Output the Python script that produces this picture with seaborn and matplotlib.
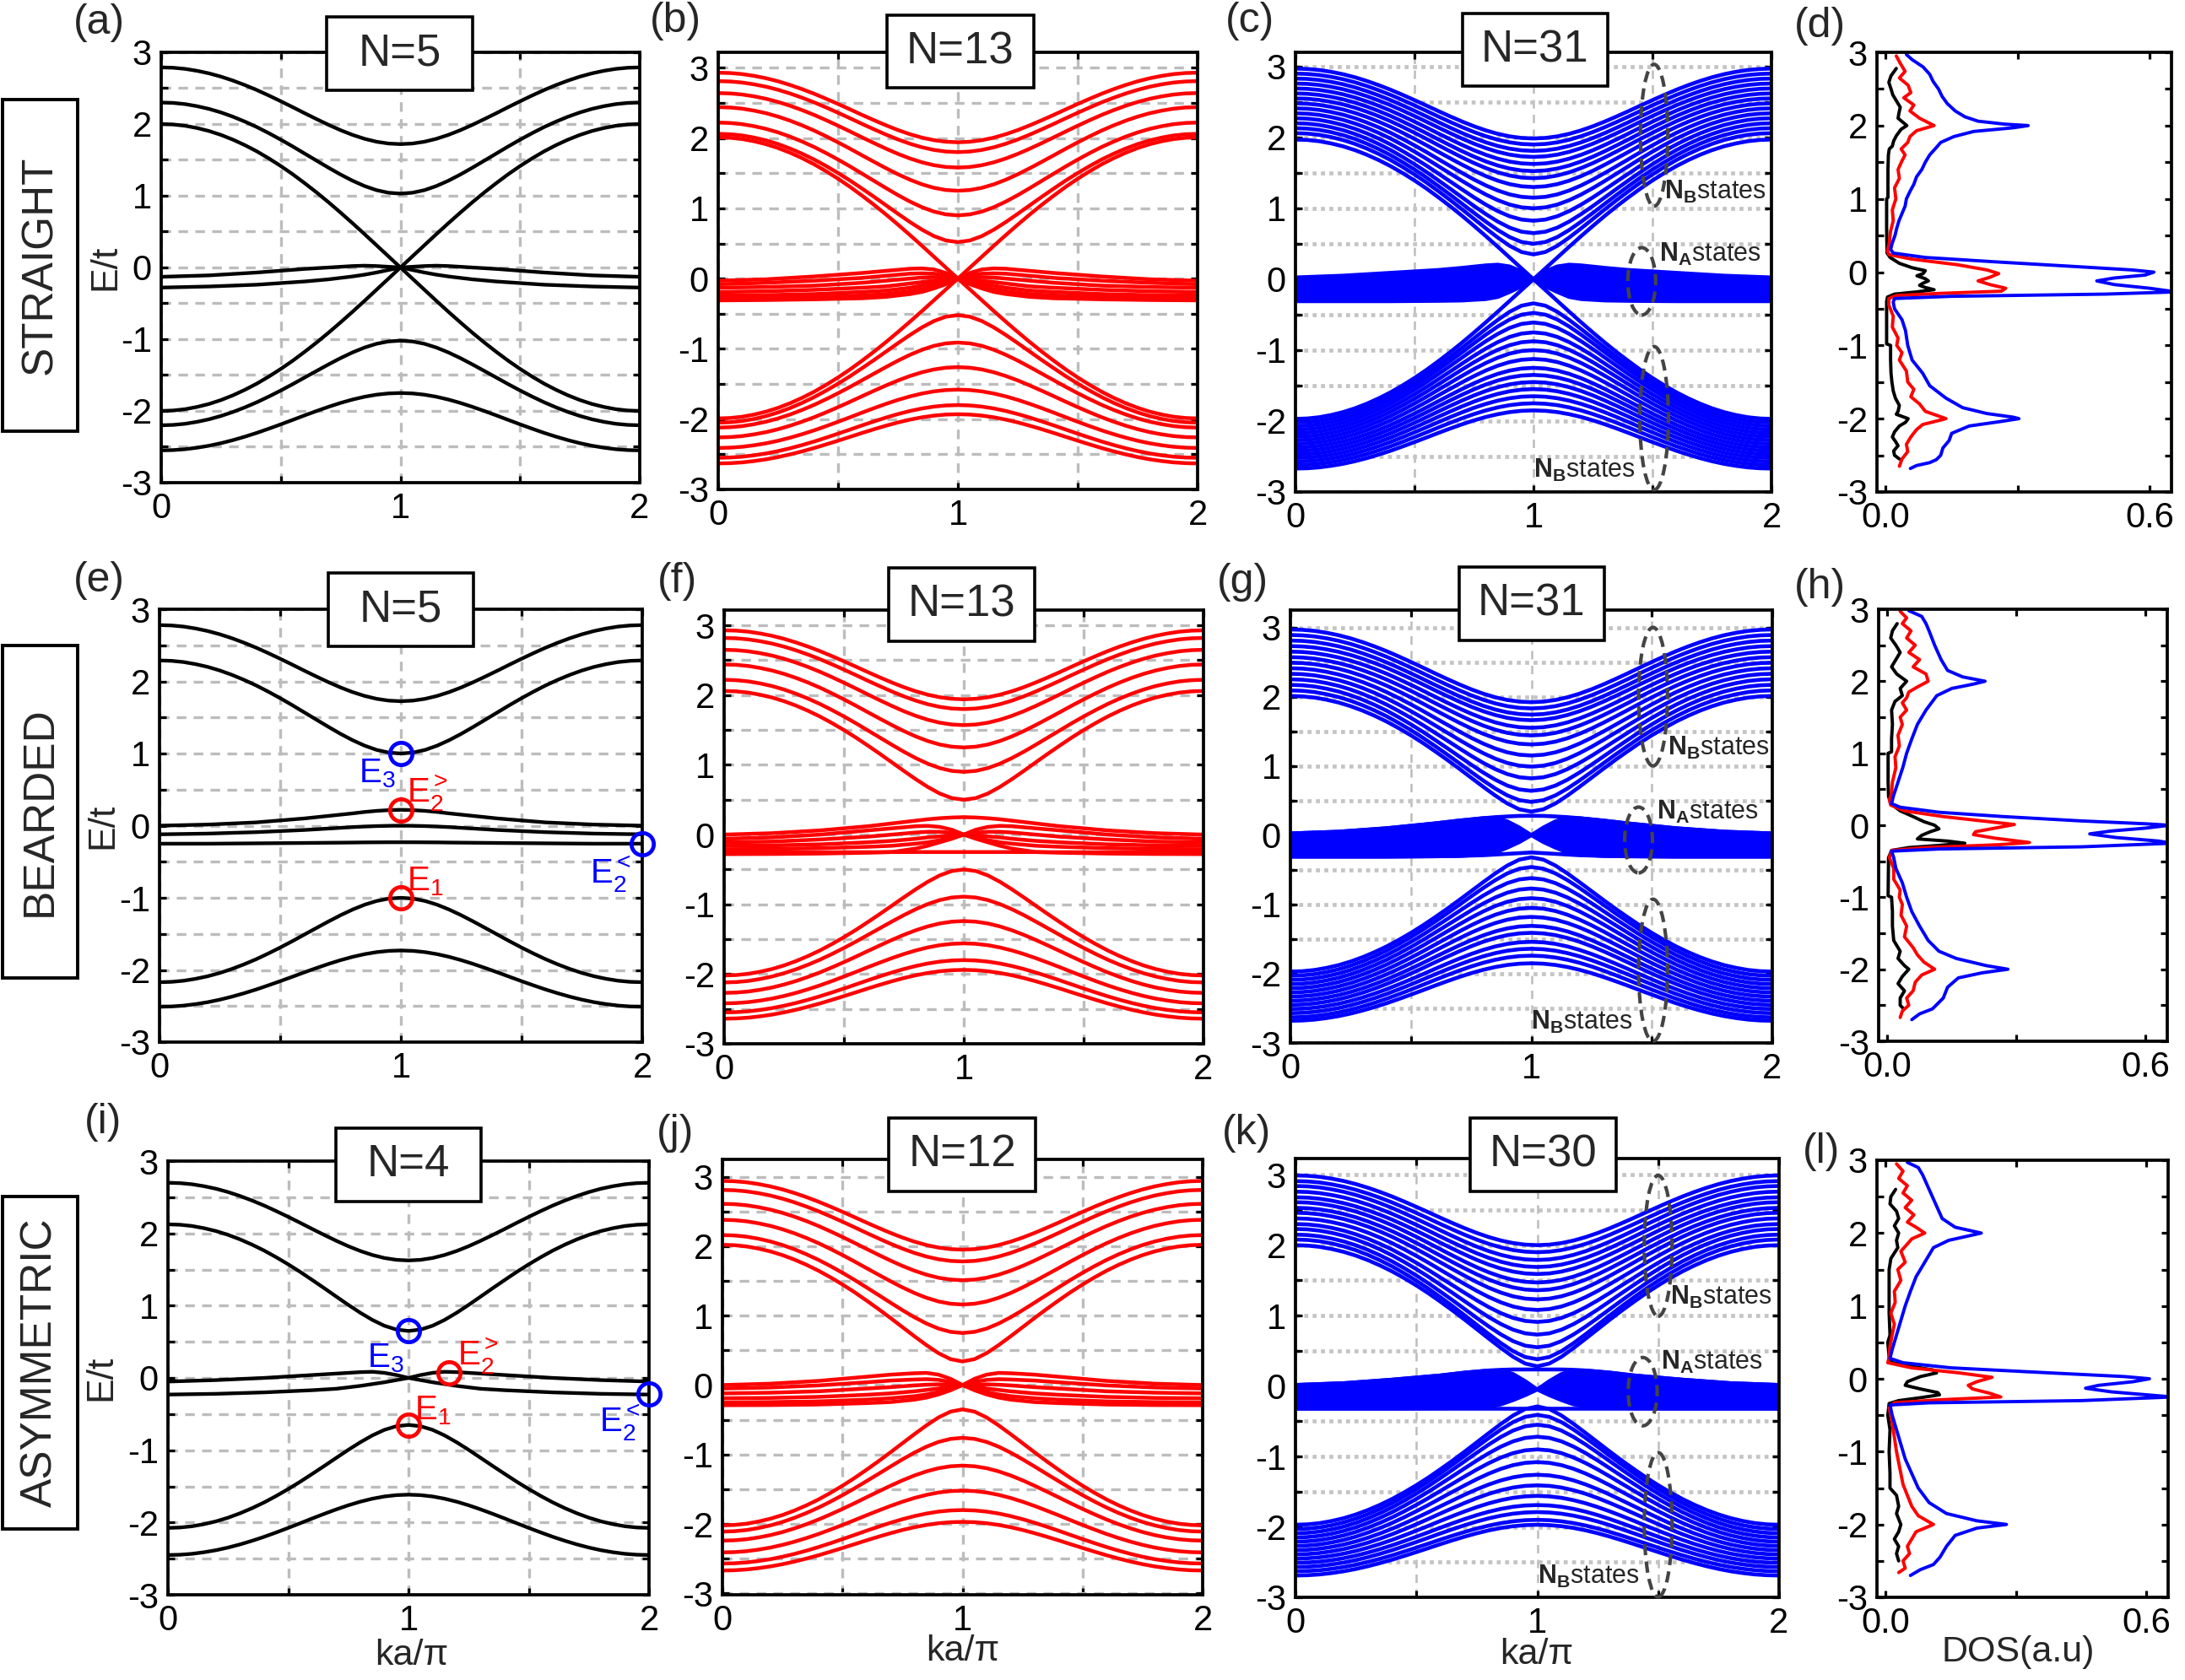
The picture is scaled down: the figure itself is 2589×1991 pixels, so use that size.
import numpy as np
import pandas as pd
import seaborn as sns
from matplotlib import pyplot as plt
from matplotlib.patches import Ellipse, Rectangle

# ---------------- values ----------------
# half Brillouin zone, the right half (1..2) is the mirror image
K_HALF = [0.0, 0.05, 0.1, 0.15, 0.2, 0.25, 0.3, 0.35, 0.4, 0.45, 0.5,
          0.55, 0.6, 0.65, 0.7, 0.75, 0.8, 0.85, 0.9, 0.95, 1.0]
# E^2 goes from its zone-edge value to its zone-centre value along this shape
SHAPE = [0.0, 0.006, 0.024, 0.055, 0.095, 0.146, 0.206, 0.273, 0.345, 0.422, 0.5,
         0.578, 0.655, 0.727, 0.794, 0.854, 0.905, 0.946, 0.976, 0.994, 1.0]
K_FLAT = [0.0, 0.2, 0.4, 0.6, 0.7, 0.8, 0.85, 0.9, 0.95, 1.0]

# (a) straight N=5
A_UP_EDGE = [2.79, 2.30, 2.00]
A_UP_CENTER = [1.72, 1.03, 0.00]
A_LO_EDGE = [-2.00, -2.20, -2.55]
A_LO_CENTER = [0.00, -1.02, -1.75]
A_FLAT = [
    [-0.13, -0.11, -0.07, -0.02, 0.00, 0.02, 0.025, 0.02, 0.01, 0.0],
    [-0.28, -0.265, -0.24, -0.195, -0.165, -0.125, -0.10, -0.07, -0.035, 0.0],
]

# (b) straight N=13
B_UP_EDGE = [2.93, 2.81, 2.64, 2.44, 2.22, 2.06, 2.01]
B_UP_CENTER = [1.94, 1.80, 1.58, 1.25, 0.90, 0.52, 0.00]
B_LO_EDGE = [-1.99, -2.05, -2.12, -2.26, -2.41, -2.55, -2.63]
B_LO_CENTER = [0.00, -0.52, -0.91, -1.26, -1.58, -1.80, -1.93]
B_FLAT = [
    [-0.03, -0.01, 0.03, 0.08, 0.11, 0.14, 0.145, 0.13, 0.08, 0.0],
    [-0.08, -0.06, -0.03, 0.01, 0.04, 0.07, 0.075, 0.07, 0.04, 0.0],
    [-0.13, -0.12, -0.10, -0.06, -0.03, 0.00, 0.015, 0.02, 0.015, 0.0],
    [-0.19, -0.18, -0.16, -0.13, -0.11, -0.07, -0.05, -0.03, -0.01, 0.0],
    [-0.24, -0.235, -0.22, -0.19, -0.17, -0.13, -0.10, -0.07, -0.035, 0.0],
    [-0.28, -0.275, -0.265, -0.24, -0.22, -0.18, -0.15, -0.11, -0.06, 0.0],
    [-0.31, -0.305, -0.295, -0.28, -0.26, -0.22, -0.19, -0.14, -0.08, 0.0],
]

# (c) straight N=31
C_UP_EDGE = [2.97, 2.90, 2.83, 2.76, 2.69, 2.62, 2.55, 2.48, 2.41, 2.34, 2.27, 2.20, 2.13, 2.06, 1.97]
C_UP_CENTER = [1.985, 1.90, 1.81, 1.725, 1.625, 1.525, 1.425, 1.30, 1.15, 1.00, 0.825, 0.65, 0.50, 0.35, 0.00]
C_LO_EDGE = [-1.97, -2.02, -2.07, -2.12, -2.17, -2.22, -2.27, -2.32, -2.37, -2.42, -2.47, -2.52, -2.57, -2.62, -2.67]
C_LO_CENTER = [0.00, -0.34, -0.475, -0.61, -0.75, -0.875, -1.00, -1.125, -1.25, -1.35, -1.45, -1.55, -1.65, -1.75, -1.85]
C_FLAT_TOP = [0.025, 0.05, 0.09, 0.13, 0.16, 0.195, 0.205, 0.18, 0.11, 0.0]
C_FLAT_BOT = [-0.31, -0.31, -0.31, -0.305, -0.30, -0.28, -0.25, -0.18, -0.10, 0.0]

# (e) bearded N=5
E_UP_EDGE = [2.78, 2.29]
E_UP_CENTER = [1.725, 1.00]
E_LO_EDGE = [-2.17, -2.51]
E_LO_CENTER = [-1.00, -1.73]
E_FLAT = [
    [0.00, 0.015, 0.045, 0.10, 0.135, 0.17, 0.19, 0.205, 0.215, 0.22],
    [-0.12, -0.11, -0.09, -0.06, -0.04, -0.02, -0.012, -0.006, -0.002, 0.0],
    [-0.25, -0.25, -0.245, -0.24, -0.237, -0.234, -0.232, -0.231, -0.23, -0.23],
]

# (f) bearded N=13
F_UP_EDGE = [2.93, 2.82, 2.65, 2.44, 2.22, 2.06]
F_UP_CENTER = [1.94, 1.80, 1.57, 1.25, 0.90, 0.50]
F_LO_EDGE = [-2.02, -2.12, -2.27, -2.42, -2.55, -2.64]
F_LO_CENTER = [-0.50, -0.89, -1.24, -1.56, -1.80, -1.94]
F_FLAT = [
    [0.00, 0.02, 0.06, 0.12, 0.16, 0.20, 0.22, 0.235, 0.245, 0.25],
    [-0.06, -0.04, 0.00, 0.06, 0.09, 0.12, 0.125, 0.11, 0.07, 0.0],
    [-0.11, -0.10, -0.07, -0.03, 0.00, 0.03, 0.04, 0.04, 0.025, 0.0],
    [-0.16, -0.155, -0.14, -0.11, -0.09, -0.06, -0.04, -0.025, -0.01, 0.0],
    [-0.21, -0.205, -0.195, -0.175, -0.16, -0.13, -0.11, -0.08, -0.04, 0.0],
    [-0.255, -0.254, -0.253, -0.252, -0.251, -0.25, -0.25, -0.25, -0.25, -0.25],
    [-0.28, -0.278, -0.272, -0.26, -0.25, -0.20, -0.16, -0.11, -0.06, 0.0],
]

# (g) bearded N=31
G_UP_EDGE = [2.97, 2.89, 2.81, 2.73, 2.65, 2.57, 2.49, 2.41, 2.33, 2.25, 2.17, 2.09, 2.01]
G_UP_CENTER = [1.92, 1.83, 1.74, 1.66, 1.55, 1.44, 1.31, 1.15, 0.99, 0.82, 0.64, 0.48, 0.34]
G_LO_EDGE = [-1.97, -2.03, -2.09, -2.15, -2.21, -2.27, -2.33, -2.39, -2.45, -2.51, -2.57, -2.63, -2.68]
G_LO_CENTER = [-0.32, -0.46, -0.62, -0.77, -0.91, -1.05, -1.18, -1.31, -1.41, -1.54, -1.64, -1.74, -1.85]
G_FLAT_TOP = [0.025, 0.05, 0.10, 0.17, 0.21, 0.245, 0.25, 0.20, 0.11, 0.0]
G_FLAT_BOT = [-0.31, -0.31, -0.31, -0.305, -0.30, -0.28, -0.25, -0.18, -0.10, 0.0]
G_DOME = [0.025, 0.05, 0.10, 0.17, 0.21, 0.245, 0.26, 0.27, 0.278, 0.28]
G_FLOOR = [-0.31, -0.31, -0.31, -0.305, -0.30, -0.29, -0.28, -0.27, -0.26, -0.25]

# (i) asymmetric N=4
I_UP_EDGE = [2.70, 2.125]
I_UP_CENTER = [1.625, 0.65]
I_LO_EDGE = [-2.075, -2.45]
I_LO_CENTER = [-0.65, -1.615]
I_FLAT = [
    [-0.05, -0.03, 0.00, 0.04, 0.06, 0.08, 0.085, 0.07, 0.04, 0.0],
    [-0.23, -0.22, -0.20, -0.17, -0.15, -0.11, -0.085, -0.06, -0.03, 0.0],
]

# (j) asymmetric N=12
J_UP_EDGE = [2.94, 2.81, 2.61, 2.38, 2.16, 2.02]
J_UP_CENTER = [1.95, 1.78, 1.51, 1.16, 0.75, 0.34]
J_LO_EDGE = [-2.02, -2.11, -2.24, -2.41, -2.57, -2.67]
J_LO_CENTER = [-0.35, -0.76, -1.16, -1.52, -1.80, -1.97]
J_FLAT = [
    [0.00, 0.02, 0.06, 0.12, 0.15, 0.17, 0.175, 0.15, 0.09, 0.0],
    [-0.05, -0.035, -0.005, 0.04, 0.065, 0.08, 0.085, 0.075, 0.045, 0.0],
    [-0.12, -0.11, -0.09, -0.05, -0.03, -0.005, 0.005, 0.01, 0.007, 0.0],
    [-0.19, -0.185, -0.17, -0.14, -0.12, -0.09, -0.07, -0.05, -0.025, 0.0],
    [-0.25, -0.245, -0.235, -0.21, -0.19, -0.16, -0.135, -0.10, -0.055, 0.0],
    [-0.29, -0.288, -0.28, -0.26, -0.245, -0.21, -0.18, -0.135, -0.075, 0.0],
]

# (k) asymmetric N=30
K_UP_EDGE = [2.99, 2.91, 2.84, 2.76, 2.68, 2.61, 2.53, 2.46, 2.38, 2.30, 2.23, 2.15, 2.08, 2.00]
K_UP_CENTER = [2.00, 1.90, 1.79, 1.69, 1.59, 1.47, 1.36, 1.23, 1.08, 0.91, 0.73, 0.55, 0.38, 0.28]
K_LO_EDGE = [-1.97, -2.03, -2.09, -2.15, -2.21, -2.27, -2.33, -2.39, -2.45, -2.51, -2.57, -2.63, -2.69]
K_LO_CENTER = [-0.29, -0.41, -0.55, -0.72, -0.90, -1.08, -1.26, -1.41, -1.56, -1.69, -1.79, -1.90, -1.97]
K_FLAT_TOP = [0.015, 0.04, 0.09, 0.15, 0.19, 0.22, 0.22, 0.17, 0.07, -0.05]
K_FLAT_BOT = [-0.32, -0.32, -0.32, -0.315, -0.31, -0.29, -0.26, -0.20, -0.13, -0.05]
K_DOME = [0.015, 0.04, 0.09, 0.15, 0.19, 0.22, 0.23, 0.235, 0.235, 0.235]
K_FLOOR = [-0.32, -0.32, -0.32, -0.32, -0.32, -0.32, -0.32, -0.32, -0.32, -0.32]

# DOS curves, (E, DOS) pairs
D_BLACK = [(2.78, 0.024), (2.68, 0.012), (2.59, 0.007), (2.50, 0.012), (2.42, 0.016), (2.33, 0.025),
           (2.25, 0.033), (2.17, 0.030), (2.10, 0.028), (2.04, 0.040), (2.00, 0.048), (1.95, 0.035),
           (1.86, 0.024), (1.79, 0.018), (1.72, 0.015), (1.68, 0.008), (1.60, 0.006), (1.40, 0.005),
           (1.20, 0.005), (1.02, 0.005), (1.00, 0.002), (0.60, 0.002), (0.26, 0.003), (0.20, 0.010),
           (0.12, 0.031), (0.06, 0.060), (0.02, 0.090), (-0.02, 0.085), (-0.05, 0.071), (-0.09, 0.090),
           (-0.12, 0.097), (-0.15, 0.085), (-0.18, 0.077), (-0.21, 0.090), (-0.24, 0.110), (-0.27, 0.070),
           (-0.30, 0.020), (-0.34, 0.004), (-0.40, 0.002), (-0.98, 0.002), (-1.00, 0.011), (-1.20, 0.011),
           (-1.38, 0.012), (-1.50, 0.014), (-1.62, 0.017), (-1.72, 0.022), (-1.82, 0.031), (-1.90, 0.028),
           (-1.94, 0.024), (-2.00, 0.051), (-2.05, 0.045), (-2.10, 0.031), (-2.18, 0.020), (-2.25, 0.015),
           (-2.31, 0.022), (-2.37, 0.028), (-2.44, 0.018), (-2.50, 0.020), (-2.55, 0.031)]
D_RED = [(2.95, 0.024), (2.85, 0.033), (2.74, 0.044), (2.65, 0.031), (2.55, 0.051), (2.45, 0.057),
         (2.38, 0.041), (2.28, 0.064), (2.20, 0.055), (2.10, 0.077), (2.00, 0.110), (1.93, 0.070),
         (1.85, 0.055), (1.77, 0.050), (1.68, 0.035), (1.60, 0.044), (1.52, 0.037), (1.40, 0.028),
         (1.28, 0.031), (1.15, 0.020), (1.00, 0.023), (0.85, 0.015), (0.70, 0.017), (0.56, 0.011),
         (0.40, 0.008), (0.29, 0.004), (0.24, 0.007), (0.18, 0.057), (0.10, 0.164), (0.03, 0.230),
         (-0.02, 0.257), (-0.07, 0.237), (-0.12, 0.210), (-0.17, 0.237), (-0.22, 0.273), (-0.26, 0.263),
         (-0.29, 0.124), (-0.32, 0.024), (-0.36, 0.007), (-0.45, 0.007), (-0.60, 0.017), (-0.75, 0.015),
         (-0.90, 0.028), (-1.00, 0.025), (-1.10, 0.037), (-1.20, 0.031), (-1.35, 0.047), (-1.50, 0.050),
         (-1.60, 0.064), (-1.70, 0.057), (-1.80, 0.077), (-1.90, 0.090), (-2.00, 0.137), (-2.08, 0.084),
         (-2.15, 0.070), (-2.25, 0.057), (-2.35, 0.047), (-2.45, 0.050), (-2.55, 0.037), (-2.65, 0.031)]
D_BLUE = [(2.97, 0.047), (2.90, 0.060), (2.80, 0.085), (2.70, 0.100), (2.60, 0.108), (2.50, 0.120),
          (2.40, 0.128), (2.30, 0.140), (2.20, 0.158), (2.12, 0.180), (2.06, 0.210), (2.02, 0.270),
          (2.00, 0.324), (1.97, 0.290), (1.92, 0.200), (1.85, 0.155), (1.77, 0.125), (1.70, 0.115),
          (1.60, 0.100), (1.50, 0.090), (1.40, 0.082), (1.30, 0.070), (1.20, 0.064), (1.10, 0.055),
          (1.00, 0.047), (0.90, 0.044), (0.80, 0.037), (0.70, 0.030), (0.60, 0.025), (0.50, 0.021),
          (0.40, 0.015), (0.31, 0.011), (0.26, 0.017), (0.20, 0.090), (0.14, 0.250), (0.08, 0.420),
          (0.03, 0.560), (0.00, 0.610), (-0.04, 0.590), (-0.08, 0.520), (-0.12, 0.480), (-0.17, 0.520),
          (-0.22, 0.600), (-0.27, 0.660), (-0.30, 0.500), (-0.33, 0.150), (-0.36, 0.020), (-0.41, 0.017),
          (-0.50, 0.020), (-0.65, 0.037), (-0.80, 0.045), (-1.00, 0.050), (-1.20, 0.060), (-1.38, 0.084),
          (-1.55, 0.100), (-1.72, 0.137), (-1.85, 0.175), (-1.93, 0.230), (-1.98, 0.290), (-2.00, 0.303),
          (-2.04, 0.260), (-2.10, 0.190), (-2.20, 0.150), (-2.30, 0.144), (-2.40, 0.130), (-2.50, 0.125),
          (-2.56, 0.115), (-2.60, 0.100), (-2.64, 0.070), (-2.68, 0.056)]

H_BLACK = [(2.80, 0.023), (2.70, 0.012), (2.60, 0.008), (2.50, 0.020), (2.40, 0.030), (2.30, 0.020),
           (2.20, 0.010), (2.10, 0.022), (2.00, 0.045), (1.90, 0.030), (1.80, 0.035), (1.72, 0.018),
           (1.60, 0.010), (1.40, 0.012), (1.20, 0.010), (1.02, 0.010), (1.00, 0.002), (0.60, 0.002),
           (0.40, 0.003), (0.30, 0.008), (0.20, 0.030), (0.12, 0.060), (0.05, 0.085), (0.00, 0.110),
           (-0.05, 0.120), (-0.09, 0.100), (-0.14, 0.080), (-0.19, 0.070), (-0.22, 0.140), (-0.25, 0.180),
           (-0.28, 0.120), (-0.31, 0.050), (-0.35, 0.010), (-0.45, 0.003), (-0.98, 0.002), (-1.00, 0.010),
           (-1.20, 0.012), (-1.40, 0.012), (-1.60, 0.015), (-1.75, 0.030), (-1.85, 0.025), (-1.95, 0.040),
           (-2.00, 0.050), (-2.10, 0.035), (-2.20, 0.025), (-2.30, 0.040), (-2.40, 0.030), (-2.50, 0.030),
           (-2.55, 0.038)]
H_RED = [(2.97, 0.030), (2.88, 0.045), (2.80, 0.035), (2.70, 0.055), (2.60, 0.045), (2.50, 0.065),
         (2.40, 0.050), (2.30, 0.075), (2.20, 0.060), (2.10, 0.090), (2.00, 0.095), (1.92, 0.070),
         (1.85, 0.050), (1.77, 0.045), (1.70, 0.035), (1.60, 0.045), (1.50, 0.030), (1.40, 0.035),
         (1.25, 0.025), (1.10, 0.028), (0.95, 0.018), (0.80, 0.020), (0.60, 0.012), (0.45, 0.010),
         (0.35, 0.005), (0.28, 0.008), (0.20, 0.040), (0.12, 0.130), (0.06, 0.220), (0.01, 0.295),
         (-0.04, 0.250), (-0.09, 0.205), (-0.13, 0.200), (-0.18, 0.250), (-0.24, 0.330), (-0.27, 0.260),
         (-0.31, 0.090), (-0.35, 0.010), (-0.45, 0.005), (-0.60, 0.015), (-0.75, 0.015), (-0.90, 0.030),
         (-1.00, 0.028), (-1.10, 0.035), (-1.25, 0.032), (-1.40, 0.045), (-1.55, 0.040), (-1.70, 0.060),
         (-1.80, 0.070), (-1.90, 0.085), (-2.00, 0.110), (-2.08, 0.080), (-2.18, 0.065), (-2.30, 0.060),
         (-2.40, 0.045), (-2.50, 0.050), (-2.58, 0.035), (-2.67, 0.030)]
H_BLUE = [(2.98, 0.050), (2.90, 0.080), (2.80, 0.090), (2.70, 0.097), (2.50, 0.110), (2.30, 0.125),
          (2.15, 0.140), (2.06, 0.175), (2.00, 0.227), (1.96, 0.200), (1.90, 0.150), (1.80, 0.115),
          (1.60, 0.090), (1.40, 0.070), (1.20, 0.057), (1.00, 0.045), (0.80, 0.036), (0.60, 0.025),
          (0.40, 0.014), (0.30, 0.010), (0.25, 0.030), (0.18, 0.120), (0.12, 0.270), (0.06, 0.450),
          (0.02, 0.600), (0.00, 0.655), (-0.04, 0.600), (-0.08, 0.520), (-0.12, 0.470), (-0.17, 0.530),
          (-0.22, 0.630), (-0.25, 0.660), (-0.30, 0.450), (-0.33, 0.120), (-0.36, 0.010), (-0.45, 0.015),
          (-0.60, 0.020), (-0.80, 0.035), (-1.00, 0.045), (-1.20, 0.057), (-1.40, 0.075), (-1.60, 0.095),
          (-1.75, 0.120), (-1.85, 0.160), (-1.95, 0.230), (-2.00, 0.280), (-2.05, 0.220), (-2.12, 0.165),
          (-2.25, 0.140), (-2.40, 0.130), (-2.55, 0.105), (-2.62, 0.075), (-2.70, 0.057)]

L_BLACK = [(2.60, 0.023), (2.50, 0.012), (2.40, 0.010), (2.30, 0.025), (2.20, 0.030), (2.10, 0.020),
           (2.00, 0.030), (1.90, 0.025), (1.80, 0.028), (1.65, 0.012), (1.50, 0.008), (1.20, 0.008),
           (0.90, 0.008), (0.60, 0.010), (0.50, 0.005), (0.30, 0.008), (0.22, 0.015), (0.17, 0.060),
           (0.12, 0.110), (0.08, 0.117), (0.03, 0.080), (-0.04, 0.050), (-0.09, 0.045), (-0.14, 0.080),
           (-0.19, 0.120), (-0.22, 0.124), (-0.26, 0.080), (-0.30, 0.030), (-0.34, 0.008), (-0.50, 0.005),
           (-0.70, 0.010), (-1.00, 0.008), (-1.30, 0.010), (-1.50, 0.010), (-1.60, 0.025), (-1.75, 0.030),
           (-1.85, 0.025), (-2.00, 0.035), (-2.10, 0.030), (-2.20, 0.020), (-2.30, 0.030), (-2.40, 0.025),
           (-2.50, 0.030)]
L_RED = [(2.95, 0.025), (2.85, 0.040), (2.75, 0.030), (2.65, 0.050), (2.55, 0.040), (2.45, 0.060),
         (2.35, 0.045), (2.25, 0.065), (2.15, 0.050), (2.08, 0.070), (2.00, 0.090), (1.92, 0.060),
         (1.85, 0.050), (1.75, 0.035), (1.60, 0.045), (1.50, 0.028), (1.35, 0.035), (1.20, 0.020),
         (1.05, 0.022), (0.90, 0.012), (0.75, 0.020), (0.60, 0.015), (0.45, 0.010), (0.30, 0.008),
         (0.22, 0.005), (0.15, 0.060), (0.08, 0.170), (0.02, 0.245), (-0.04, 0.210), (-0.09, 0.190),
         (-0.14, 0.200), (-0.20, 0.240), (-0.25, 0.265), (-0.29, 0.120), (-0.33, 0.020), (-0.40, 0.008),
         (-0.60, 0.015), (-0.80, 0.020), (-1.00, 0.025), (-1.15, 0.030), (-1.30, 0.035), (-1.45, 0.040),
         (-1.60, 0.050), (-1.75, 0.060), (-1.88, 0.075), (-2.00, 0.110), (-2.10, 0.070), (-2.20, 0.060),
         (-2.30, 0.050), (-2.40, 0.055), (-2.50, 0.040), (-2.60, 0.045), (-2.66, 0.030)]
L_BLUE = [(2.97, 0.050), (2.90, 0.075), (2.80, 0.085), (2.60, 0.100), (2.40, 0.115), (2.20, 0.130),
          (2.08, 0.160), (2.00, 0.220), (1.96, 0.190), (1.90, 0.145), (1.80, 0.110), (1.60, 0.090),
          (1.40, 0.070), (1.20, 0.057), (1.00, 0.045), (0.80, 0.035), (0.60, 0.025), (0.40, 0.015),
          (0.28, 0.010), (0.22, 0.040), (0.15, 0.150), (0.08, 0.380), (0.03, 0.550), (0.00, 0.607),
          (-0.04, 0.570), (-0.09, 0.490), (-0.13, 0.460), (-0.18, 0.520), (-0.22, 0.600), (-0.25, 0.660),
          (-0.30, 0.450), (-0.33, 0.100), (-0.36, 0.010), (-0.50, 0.015), (-0.70, 0.025), (-0.90, 0.035),
          (-1.10, 0.045), (-1.30, 0.060), (-1.50, 0.075), (-1.70, 0.100), (-1.85, 0.140), (-1.95, 0.210),
          (-2.00, 0.278), (-2.05, 0.210), (-2.15, 0.160), (-2.30, 0.140), (-2.45, 0.125), (-2.55, 0.110),
          (-2.62, 0.080), (-2.70, 0.057)]

# ---------------- drawing ----------------
sns.set_theme(style="ticks")
plt.rcParams["font.family"] = ["Liberation Sans", "DejaVu Sans"]
plt.rcParams["mathtext.fontset"] = "custom"
plt.rcParams["mathtext.rm"] = "Liberation Sans"
plt.rcParams["mathtext.it"] = "Liberation Sans"
plt.rcParams["mathtext.bf"] = "Liberation Sans:bold"

W, H = 2589, 1991
BLUE, RED = "#0000ff", "#ff0000"
GRID = "#bcbcbc"
NARROW = ["Liberation Sans Narrow", "Liberation Sans", "DejaVu Sans"]
LW_BLACK, LW_RED, LW_BLUE, LW_DOS = 3.1, 3.2, 3.3, 2.8

fig = plt.figure(figsize=(W / 100, H / 100), dpi=100)


def fx(px):
    return px / W


def fy(py):
    return 1 - py / H


def add_axes(x0, x1, y0, y1):
    return fig.add_axes([fx(x0), fy(y1), (x1 - x0) / W, (y1 - y0) / H])


def mirror(ks, vals):
    k = list(ks) + [2 - v for v in ks[-2::-1]]
    e = list(vals) + list(vals[-2::-1])
    return k, e


def band_frame(up_edge, up_center, lo_edge, lo_center, flats=()):
    curves = []
    shape = np.array(SHAPE)
    for e, c in list(zip(up_edge, up_center)) + list(zip(lo_edge, lo_center)):
        vals = np.sign(e) * np.sqrt(e ** 2 + (c ** 2 - e ** 2) * shape)
        curves.append(mirror(K_HALF, vals))
    for f in flats:
        curves.append(mirror(K_FLAT, f))
    recs = []
    for i, (k, e) in enumerate(curves):
        recs += [(i, kk, ee) for kk, ee in zip(k, e)]
    return pd.DataFrame(recs, columns=["band", "k", "E"])


def style_common(ax):
    for s in ax.spines.values():
        s.set_linewidth(2.7)
        s.set_color("black")
    ax.tick_params(direction="in", length=6, width=2.3, top=True, right=True,
                   labelsize=30, pad=8, colors="black")
    ax.set_xlabel("")
    ax.set_ylabel("")
    ax.set_facecolor("white")


def yticks(ax):
    yt = np.arange(-3, 3.01, 0.5)
    ax.set_yticks(yt)
    ax.set_yticklabels([f"{int(v)}" if v == int(v) else "" for v in yt])


def band_axes(ax, ylim, dotted=False):
    ax.set_xlim(0, 2)
    ax.set_ylim(*ylim)
    ax.set_xticks([0, 0.5, 1, 1.5, 2])
    ax.set_xticklabels(["0", "", "1", "", "2"])
    yticks(ax)
    if dotted:
        ax.yaxis.grid(True, color="#c4c4c4", ls=(0, (1, 1.1)), lw=3.4)
        ax.xaxis.grid(True, color=GRID, ls=(0, (4, 3)), lw=1.8)
    else:
        ax.xaxis.grid(True, color=GRID, ls=(0, (3.4, 2.6)), lw=2.4)
        ax.yaxis.grid(True, color=GRID, ls=(0, (3.4, 2.6)), lw=2.4)
    ax.set_axisbelow(True)
    style_common(ax)


def draw_bands(ax, df, color, lw):
    sns.lineplot(data=df, x="k", y="E", units="band", estimator=None, sort=False,
                 color=color, linewidth=lw, ax=ax, legend=False)


def draw_flat_fill(ax, top, bot, color):
    k, t = mirror(K_FLAT, top)
    _, b = mirror(K_FLAT, bot)
    ax.fill_between(k, t, b, color=color, lw=0)
    ax.plot(k, t, color=color, lw=LW_BLUE)
    ax.plot(k, b, color=color, lw=LW_BLUE)


def ellipses_and_labels(ax, ell, labels):
    for (x, y, w, h) in ell:
        ax.add_patch(Ellipse((x, y), w, h, fill=False, ec="#444444", lw=3.0,
                             ls=(0, (3.2, 1.8)), zorder=6, clip_on=False))
    for (x, y, sub) in labels:
        ax.text(x, y, rf"$\mathbf{{N_{sub}}}$states", fontsize=22, family=NARROW,
                ha="left", va="center", zorder=7)


def dos_axes(ax, curves):
    for data, color in curves:
        e = [p[0] for p in data]
        d = [p[1] for p in data]
        sns.lineplot(x=d, y=e, sort=False, estimator=None, color=color,
                     linewidth=LW_DOS, ax=ax)
    ax.set_xlim(-0.02, 0.65)
    ax.set_ylim(-3, 3)
    ax.set_xticks([0, 0.3, 0.6])
    ax.set_xticklabels(["0.0", "", "0.6"])
    yticks(ax)
    style_common(ax)


def marker(ax, x, y, color):
    ax.plot([x], [y], "o", ms=19, mfc="none", mec=color, mew=3.4, clip_on=False, zorder=8)


def elabel(ax, x, y, txt, color):
    ax.text(x, y, txt, color=color, fontsize=29, ha="center", va="center", zorder=9)


POS = {
    "a": (191, 758, 62, 572), "b": (851, 1419, 62, 580), "c": (1535, 2099, 62, 583), "d": (2224, 2573, 62, 583),
    "e": (189, 761, 722, 1235), "f": (858, 1426, 723, 1237), "g": (1529, 2100, 723, 1236), "h": (2226, 2568, 722, 1234),
    "i": (199, 769, 1376, 1890), "j": (856, 1425, 1374, 1890), "k": (1535, 2108, 1373, 1893), "l": (2224, 2569, 1375, 1893),
}
axs = {key: add_axes(*box) for key, box in POS.items()}

# row 1: straight
ax = axs["a"]
draw_bands(ax, band_frame(A_UP_EDGE, A_UP_CENTER, A_LO_EDGE, A_LO_CENTER, A_FLAT), "black", LW_BLACK)
band_axes(ax, (-3, 3))

ax = axs["b"]
draw_bands(ax, band_frame(B_UP_EDGE, B_UP_CENTER, B_LO_EDGE, B_LO_CENTER, B_FLAT), RED, LW_RED)
band_axes(ax, (-3, 3.22))

ax = axs["c"]
draw_flat_fill(ax, C_FLAT_TOP, C_FLAT_BOT, BLUE)
draw_bands(ax, band_frame(C_UP_EDGE, C_UP_CENTER, C_LO_EDGE, C_LO_CENTER), BLUE, LW_BLUE)
band_axes(ax, (-3, 3.2), dotted=True)
ellipses_and_labels(ax, [(1.507, 2.03, 0.115, 2.0), (1.455, -0.03, 0.117, 0.95), (1.507, -1.96, 0.12, 2.02)],
                    [(1.55, 1.23, "B"), (1.53, 0.35, "A"), (1.0, -2.7, "B")])

dos_axes(axs["d"], [(D_BLACK, "black"), (D_RED, RED), (D_BLUE, BLUE)])

# row 2: bearded
ax = axs["e"]
draw_bands(ax, band_frame(E_UP_EDGE, E_UP_CENTER, E_LO_EDGE, E_LO_CENTER, E_FLAT), "black", LW_BLACK)
band_axes(ax, (-3, 3))
marker(ax, 1, 1.0, BLUE)
marker(ax, 1, 0.22, RED)
marker(ax, 2, -0.25, BLUE)
marker(ax, 1, -1.0, RED)
elabel(ax, 0.90, 0.72, r"$\mathregular{E_3}$", BLUE)
elabel(ax, 1.11, 0.45, r"$\mathregular{E_2^>}$", RED)
elabel(ax, 1.87, -0.68, r"$\mathregular{E_2^<}$", BLUE)
elabel(ax, 1.10, -0.77, r"$\mathregular{E_1}$", RED)

ax = axs["f"]
draw_bands(ax, band_frame(F_UP_EDGE, F_UP_CENTER, F_LO_EDGE, F_LO_CENTER, F_FLAT), RED, LW_RED)
band_axes(ax, (-2.98, 3.22))

ax = axs["g"]
draw_flat_fill(ax, G_FLAT_TOP, G_FLAT_BOT, BLUE)
for line in (G_DOME, G_FLOOR):
    k, e = mirror(K_FLAT, line)
    ax.plot(k, e, color=BLUE, lw=LW_BLUE)
draw_bands(ax, band_frame(G_UP_EDGE, G_UP_CENTER, G_LO_EDGE, G_LO_CENTER), BLUE, LW_BLUE)
band_axes(ax, (-3, 3.25), dotted=True)
ellipses_and_labels(ax, [(1.505, 2.0, 0.12, 2.0), (1.445, -0.07, 0.115, 0.95), (1.505, -1.95, 0.12, 2.05)],
                    [(1.566, 1.26, "B"), (1.52, 0.33, "A"), (1.0, -2.7, "B")])

dos_axes(axs["h"], [(H_BLACK, "black"), (H_RED, RED), (H_BLUE, BLUE)])

# row 3: asymmetric
ax = axs["i"]
draw_bands(ax, band_frame(I_UP_EDGE, I_UP_CENTER, I_LO_EDGE, I_LO_CENTER, I_FLAT), "black", LW_BLACK)
band_axes(ax, (-3, 3))
marker(ax, 1, 0.65, BLUE)
marker(ax, 1.17, 0.075, RED)
marker(ax, 1, -0.65, RED)
marker(ax, 2, -0.225, BLUE)
elabel(ax, 0.905, 0.275, r"$\mathregular{E_3}$", BLUE)
elabel(ax, 1.29, 0.30, r"$\mathregular{E_2^>}$", RED)
elabel(ax, 1.10, -0.45, r"$\mathregular{E_1}$", RED)
elabel(ax, 1.88, -0.625, r"$\mathregular{E_2^<}$", BLUE)

ax = axs["j"]
draw_bands(ax, band_frame(J_UP_EDGE, J_UP_CENTER, J_LO_EDGE, J_LO_CENTER, J_FLAT), RED, LW_RED)
band_axes(ax, (-3.02, 3.25))

ax = axs["k"]
draw_flat_fill(ax, K_FLAT_TOP, K_FLAT_BOT, BLUE)
for line in (K_DOME, K_FLOOR):
    k, e = mirror(K_FLAT, line)
    ax.plot(k, e, color=BLUE, lw=LW_BLUE)
draw_bands(ax, band_frame(K_UP_EDGE, K_UP_CENTER, K_LO_EDGE, K_LO_CENTER), BLUE, LW_BLUE)
band_axes(ax, (-3, 3.23), dotted=True)
ellipses_and_labels(ax, [(1.50, 1.99, 0.115, 2.0), (1.436, -0.08, 0.12, 0.97), (1.50, -1.97, 0.115, 2.05)],
                    [(1.55, 1.26, "B"), (1.51, 0.34, "A"), (1.0, -2.71, "B")])

dos_axes(axs["l"], [(L_BLACK, "black"), (L_RED, RED), (L_BLUE, BLUE)])

# axis titles
for key, x in (("a", -0.116), ("e", -0.117), ("i", -0.139)):
    axs[key].set_ylabel("E/t", fontsize=32, va="center")
    axs[key].yaxis.set_label_coords(x, 0.5)
for key, x, y in (("i", 0.507, -0.14), ("j", 0.50, -0.13), ("k", 0.499, -0.13)):
    axs[key].set_xlabel("ka/\u03c0", fontsize=31, va="center")
    axs[key].xaxis.set_label_coords(x, y)
axs["l"].set_xlabel("DOS(a.u)", fontsize=31, va="center")
axs["l"].xaxis.set_label_coords(0.484, -0.126)

# N= boxes sitting on the top spines
NBOX = [(387, 560, 20, 107, "N=5"), (1051, 1225, 18, 104, "N=13"), (1733, 1905, 16, 102, "N=31"),
        (389, 561, 679, 766, "N=5"), (1053, 1226, 673, 760, "N=13"), (1729, 1901, 672, 759, "N=31"),
        (398, 570, 1337, 1424, "N=4"), (1053, 1227, 1325, 1412, "N=12"), (1742, 1915, 1325, 1412, "N=30")]
for x0, x1, y0, y1, txt in NBOX:
    fig.add_artist(Rectangle((fx(x0), fy(y1)), (x1 - x0) / W, (y1 - y0) / H, transform=fig.transFigure,
                             fc="white", ec="black", lw=2.6, zorder=10))
    fig.text(fx((x0 + x1) / 2), fy((y0 + y1) / 2), txt, fontsize=38, ha="center", va="center", zorder=11)

# row titles
for y0, y1, txt in ((118, 511, "STRAIGHT"), (765, 1159, "BEARDED"), (1418, 1812, "ASYMMETRIC")):
    fig.add_artist(Rectangle((fx(3), fy(y1)), 89 / W, (y1 - y0) / H, transform=fig.transFigure,
                             fc="white", ec="black", lw=2.8, zorder=10))
    fig.text(fx(47.5), fy((y0 + y1) / 2), txt, fontsize=37, rotation=90, ha="center", va="center", zorder=11)

# panel letters
LETTERS = [("(a)", 117, 27), ("(b)", 800, 25), ("(c)", 1481, 25), ("(d)", 2156, 31),
           ("(e)", 117, 688), ("(f)", 803, 689), ("(g)", 1472, 690), ("(h)", 2156, 696),
           ("(i)", 122, 1330), ("(j)", 800, 1343), ("(k)", 1477, 1343), ("(l)", 2158, 1365)]
for txt, x, y in LETTERS:
    fig.text(fx(x), fy(y), txt, fontsize=36, ha="center", va="center")

fig.savefig("out.png", dpi=100, facecolor="white")
